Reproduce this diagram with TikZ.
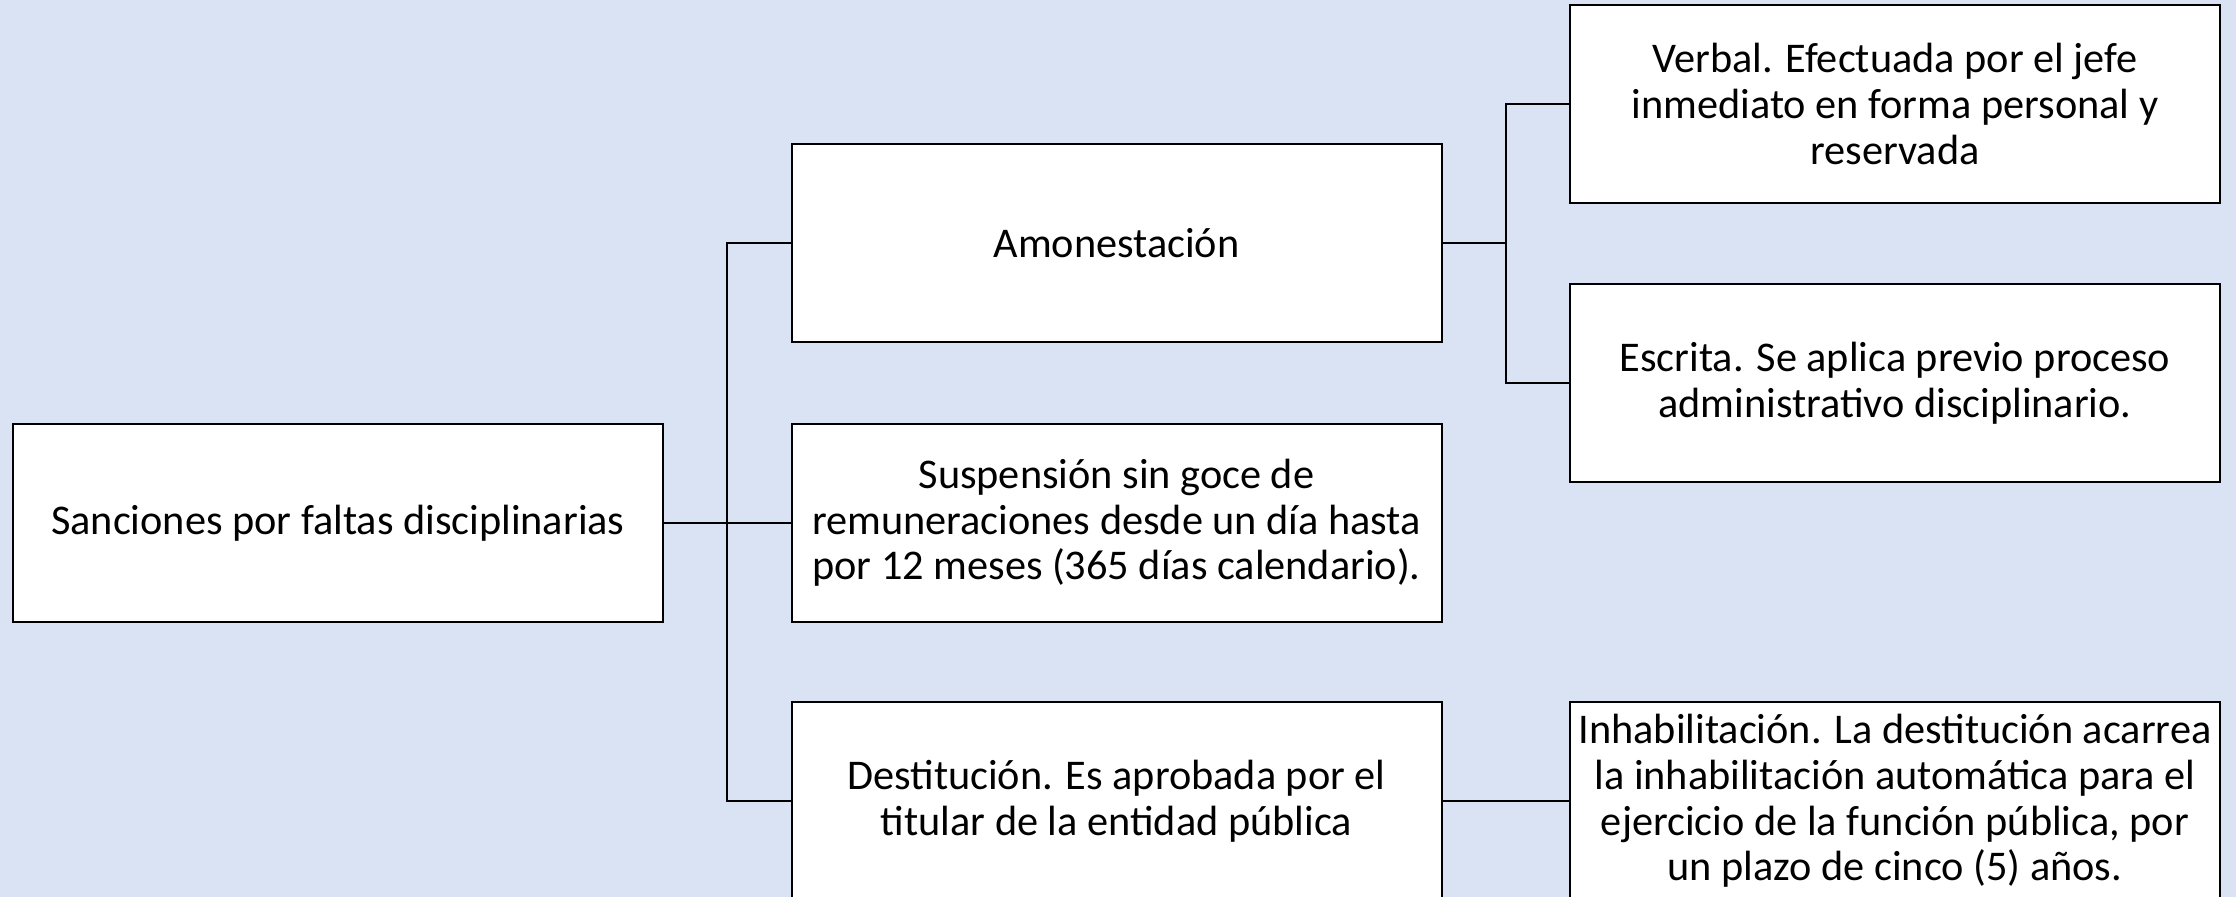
\documentclass[tikz,border=0pt]{standalone}
\usepackage{fontspec}
\setmainfont{Carlito}
\definecolor{bgblue}{RGB}{218,227,243}
\begin{document}
\begin{tikzpicture}[x=1pt,y=1pt,
  box/.style={draw=black,fill=white,line width=2pt,minimum width=650pt,minimum height=198pt,
    align=center,inner sep=2pt,font=\fontsize{42.3}{45.6}\selectfont},
  conn/.style={draw=black,line width=2pt}]
\fill[bgblue] (0,0) rectangle (2236,897);
\useasboundingbox (0,0) rectangle (2236,897);
\node[box] (root) at (338,374) {Sanciones por faltas disciplinarias};
\node[box] (amon) at (1116.5,654) {Amonestación};
\node[box] (susp) at (1116.5,374) {Suspensión sin goce de\\remuneraciones desde un día hasta\\por 12 meses (365 días calendario).};
\node[box] (dest) at (1116.5,96) {Destitución. Es aprobada por el\\titular de la entidad pública};
\node[box] (verbal) at (1895,793) {Verbal. Efectuada por el jefe\\inmediato en forma personal y\\reservada};
\node[box] (escrita) at (1895,514) {Escrita. Se aplica previo proceso\\administrativo disciplinario.};
\node[box] (inhab) at (1895,96) {Inhabilitación. La destitución acarrea\\la inhabilitación automática para el\\ejercicio de la función pública, por\\un plazo de cinco (5) años.};
\coordinate (t1) at (727,374);
\coordinate (t2) at (1506,654);
\draw[conn] (root.east) -- (susp.west);
\draw[conn] (amon.west) -| (t1) |- (dest.west);
\draw[conn] (amon.east) -- (t2);
\draw[conn] (verbal.west) -| (t2) |- (escrita.west);
\draw[conn] (dest.east) -- (inhab.west);
\end{tikzpicture}
\end{document}
